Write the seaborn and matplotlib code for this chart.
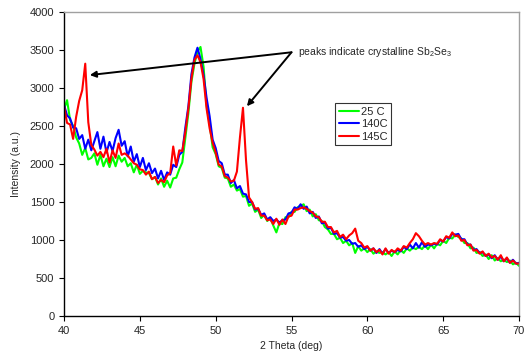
import numpy as np
import pandas as pd
import matplotlib
matplotlib.use("Agg")
import matplotlib.pyplot as plt
import seaborn as sns

# 2 theta grid (deg), 0.2 deg steps
two_theta = np.round(np.arange(40.0, 70.01, 0.2), 1)

# Intensity (a.u.)
green_25c = [
    2720, 2840, 2580, 2500, 2350, 2270, 2120, 2210, 2060, 2080,
    2140, 1990, 2120, 1970, 2070, 1960, 2090, 1970, 2110, 2030,
    2080, 1970, 2010, 1890, 1990, 1870, 1910, 1890, 1880, 1800,
    1830, 1730, 1810, 1700, 1780, 1690, 1810, 1820, 1930, 2020,
    2350, 2670, 3080, 3320, 3480, 3540, 3280, 2770, 2530, 2220,
    2130, 1970, 1950, 1820, 1810, 1700, 1730, 1650, 1670, 1570,
    1580, 1450, 1480, 1370, 1400, 1290, 1330, 1250, 1290, 1190,
    1100, 1220, 1210, 1300, 1300, 1370, 1370, 1430, 1450, 1470,
    1380, 1400, 1310, 1340, 1260, 1250, 1170, 1140, 1080, 1080,
    1010, 1030, 960, 990, 930, 960, 830, 920, 860, 890,
    840, 880, 820, 850, 830, 840, 810, 840, 790, 850,
    810, 870, 830, 890, 860, 900, 880, 910, 880, 930,
    880, 940, 890, 950, 930, 990, 960, 1030, 1020, 1070,
    1040, 1020, 960, 960, 890, 900, 830, 840, 790, 810,
    750, 800, 730, 760, 720, 740, 710, 730, 680, 700,
    660,
]
blue_140c = [
    2780, 2640, 2600, 2480, 2470, 2330, 2380, 2200, 2320, 2180,
    2300, 2420, 2200, 2360, 2150, 2290, 2170, 2340, 2450, 2240,
    2300, 2100, 2230, 2030, 2130, 1960, 2080, 1920, 2010, 1880,
    1940, 1810, 1910, 1790, 1890, 1860, 1990, 1960, 2120, 2160,
    2480, 2760, 3180, 3400, 3530, 3380, 3170, 2870, 2630, 2320,
    2210, 2040, 2010, 1860, 1860, 1750, 1790, 1680, 1710, 1610,
    1600, 1500, 1500, 1400, 1410, 1330, 1350, 1270, 1300, 1250,
    1270, 1230, 1260, 1270, 1350, 1360, 1430, 1410, 1470, 1410,
    1440, 1350, 1370, 1290, 1310, 1220, 1230, 1150, 1160, 1080,
    1090, 1030, 1040, 990, 1000, 950, 960, 910, 930, 880,
    910, 860, 890, 830, 880, 820, 880, 830, 860, 840,
    870, 850, 910, 880, 940, 890, 960, 900, 970, 910,
    940, 930, 950, 940, 1000, 980, 1040, 1020, 1080, 1070,
    1080, 1010, 1010, 940, 940, 870, 880, 830, 840, 790,
    810, 760, 800, 740, 780, 720, 760, 700, 740, 690,
    700,
]
red_145c = [
    2760, 2540, 2520, 2330, 2620, 2830, 2970, 3320, 2550, 2250,
    2190, 2110, 2160, 2090, 2200, 2020, 2180, 2080, 2270, 2120,
    2140, 2110, 2060, 2010, 1990, 1930, 1920, 1860, 1900, 1800,
    1830, 1750, 1790, 1760, 1850, 1880, 2230, 1980, 2180, 2170,
    2420, 2730, 3120, 3370, 3430, 3340, 3120, 2730, 2470, 2280,
    2150, 1990, 1970, 1840, 1820, 1770, 1780, 1900, 2350, 2740,
    2050, 1560, 1500, 1410, 1420, 1320, 1320, 1260, 1270, 1210,
    1280, 1200, 1270, 1210, 1310, 1320, 1400, 1400, 1420, 1430,
    1410, 1380, 1360, 1310, 1300, 1240, 1240, 1170, 1170, 1100,
    1120, 1040, 1070, 1010, 1060, 1090, 1150, 990, 960, 900,
    920, 860, 890, 840, 870, 810, 890, 820, 870, 840,
    890, 860, 920, 900, 960, 1010, 1090, 1050, 990, 940,
    960, 940, 960, 950, 1010, 980, 1050, 1030, 1100, 1050,
    1060, 990, 1000, 930, 940, 860, 870, 820, 850, 790,
    820, 770, 790, 740, 800, 720, 770, 700, 730, 690,
    690,
]

labels = ["25 C", "140C", "145C"]
colors = ["#00FF00", "#0000FF", "#FF0000"]

df = pd.concat([
    pd.DataFrame({"theta": two_theta, "intensity": y, "sample": lab})
    for y, lab in zip([green_25c, blue_140c, red_145c], labels)
])

sns.set_style("ticks")
plt.rcParams["font.family"] = ["Liberation Sans", "DejaVu Sans"]
plt.rcParams["mathtext.default"] = "regular"

fig = plt.figure(figsize=(5.26, 3.58), dpi=100)
ax = fig.add_axes([0.1217, 0.1173, 0.865, 0.8492])

sns.lineplot(data=df, x="theta", y="intensity", hue="sample",
             palette=dict(zip(labels, colors)), hue_order=labels,
             estimator=None, sort=False, lw=1.5, ax=ax)

ax.set_xlim(40, 70)
ax.set_ylim(0, 4000)
ax.set_xticks(range(40, 71, 5))
ax.set_yticks(range(0, 4001, 500))
ax.tick_params(labelsize=8, length=3.5, width=0.8, color="black")
ax.set_xlabel("2 Theta (deg)", fontsize=7.5, labelpad=4)
ax.set_ylabel("Intensity (a.u.)", fontsize=7.5, labelpad=6)

for side in ["left", "bottom"]:
    ax.spines[side].set_color("black")
    ax.spines[side].set_linewidth(1.0)
for side in ["top", "right"]:
    ax.spines[side].set_visible(True)
    ax.spines[side].set_color("#A0A0A0")
    ax.spines[side].set_linewidth(1.0)

# annotation with two arrows
arrow = dict(arrowstyle="-|>", color="black", lw=1.4, mutation_scale=9,
             shrinkA=0, shrinkB=0)
ax.annotate("", xy=(41.7, 3170), xytext=(55.0, 3470), arrowprops=arrow)
ax.annotate("", xy=(52.06, 2760), xytext=(55.0, 3470), arrowprops=arrow)
ax.text(55.4, 3470, "peaks indicate crystalline Sb$_2$Se$_3$",
        fontsize=7.5, va="center", ha="left")

leg = ax.legend(loc="upper left", bbox_to_anchor=(0.596, 0.70), fontsize=8,
                frameon=True, fancybox=False, handlelength=1.8,
                handletextpad=0.2, borderpad=0.3, labelspacing=0.25,
                borderaxespad=0)
leg.get_frame().set_edgecolor("black")
leg.get_frame().set_linewidth(0.8)
for line in leg.get_lines():
    line.set_linewidth(1.5)

fig.savefig("out.png", dpi=100)
